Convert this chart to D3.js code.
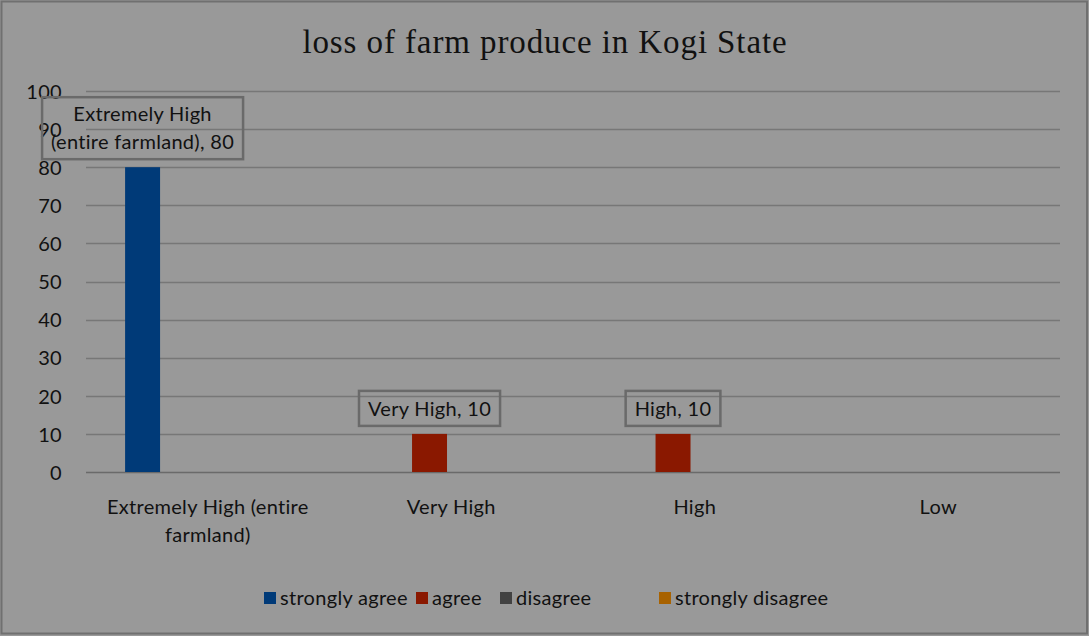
<!DOCTYPE html>
<html>
<head>
<meta charset="utf-8">
<script src="https://cdn.jsdelivr.net/npm/d3@7"></script>
<style>
  html, body { margin: 0; padding: 0; background: #999999; }
  svg { display: block; }
</style>
</head>
<body>
<svg id="chart" width="1089" height="636"></svg>
<script>
// Data
const categories = ["Extremely High (entire farmland)", "Very High", "High", "Low"];
const seriesNames = ["strongly agree", "agree", "disagree", "strongly disagree"];
const seriesColors = ["#003a78", "#8a1800", "#424242", "#a86200"];
const stronglyAgree = [80, null, null, null];
const agree = [null, 10, 10, null];
const disagree = [null, null, null, null];
const stronglyDisagree = [null, null, null, null];
const yTicks = [0, 10, 20, 30, 40, 50, 60, 70, 80, 90, 100];
const title = "loss of farm produce in Kogi State";

const seriesValues = [stronglyAgree, agree, disagree, stronglyDisagree];

const svg = d3.select("#chart");
const W = 1089, H = 636;
const plot = { left: 86, right: 1060, top: 91, bottom: 472 };
const font = "Lato, 'Open Sans', sans-serif";
const fs = 20, ls = 0.3;

// Outer frame
svg.append("rect")
  .attr("x", 1.5).attr("y", 1.5).attr("width", W - 3.5).attr("height", H - 4)
  .attr("fill", "#999999").attr("stroke", "#707070").attr("stroke-width", 2);

// Title
svg.append("text")
  .attr("x", 545).attr("y", 53)
  .attr("text-anchor", "middle")
  .attr("font-family", "'Liberation Serif', 'DejaVu Serif', serif")
  .attr("font-size", 33)
  .attr("letter-spacing", 0.9)
  .attr("fill", "#111")
  .text(title);

const x0 = d3.scaleBand().domain(categories).range([plot.left, plot.right]).paddingInner(0).paddingOuter(0);
const x1 = d3.scaleBand().domain(seriesNames).range([0, x0.bandwidth()])
  .paddingInner(0.195).paddingOuter(0.9);
const y = d3.scaleLinear().domain([0, 100]).range([plot.bottom, plot.top]);

// Gridlines
svg.append("g").selectAll("line").data(yTicks).join("line")
  .attr("x1", plot.left).attr("x2", plot.right)
  .attr("y1", d => Math.round(y(d)) + 0.5).attr("y2", d => Math.round(y(d)) + 0.5)
  .attr("stroke", d => d === 0 ? "#6a6a6a" : "#777777")
  .attr("stroke-width", 1.5);

// Y axis labels
const yAxis = d3.axisLeft(y).tickValues(yTicks).tickSize(0).tickPadding(0);
const gy = svg.append("g").attr("transform", `translate(62,0)`).call(yAxis);
gy.select(".domain").remove();
gy.selectAll("text")
  .attr("font-family", font).attr("font-size", fs).attr("letter-spacing", ls).attr("fill", "#111")
  .attr("dy", "0.36em");

// Bars
const barData = [];
seriesValues.forEach((vals, si) => {
  vals.forEach((v, ci) => {
    if (v != null) barData.push({ cat: categories[ci], series: seriesNames[si], value: v, color: seriesColors[si] });
  });
});

svg.append("g").selectAll("rect").data(barData).join("rect")
  .attr("x", d => x0(d.cat) + x1(d.series))
  .attr("y", d => y(d.value))
  .attr("width", x1.bandwidth())
  .attr("height", d => y(0) - y(d.value))
  .attr("fill", d => d.color);

// Data labels with outlined (unfilled) boxes
const labelG = svg.append("g");
barData.forEach(d => {
  const cx = x0(d.cat) + x1(d.series) + x1.bandwidth() / 2;
  const top = y(d.value);
  const g = labelG.append("g");
  let lines;
  if (d.cat === categories[0]) {
    lines = ["Extremely High", "(entire farmland), " + d.value];
  } else {
    lines = [d.cat + ", " + d.value];
  }
  const lineH = 28;
  const boxH = lines.length === 1 ? 35 : 62;
  const boxBottom = top - 8;
  const boxTop = boxBottom - boxH;
  const texts = g.selectAll("text").data(lines).join("text")
    .attr("text-anchor", "middle")
    .attr("font-family", font).attr("font-size", fs).attr("letter-spacing", ls).attr("fill", "#111")
    .attr("x", cx)
    .attr("y", (l, i) => boxTop + boxH / 2 + (i - (lines.length - 1) / 2) * lineH)
    .attr("dy", "0.36em")
    .text(l => l);
  let maxW = 0;
  texts.each(function () { maxW = Math.max(maxW, this.getComputedTextLength()); });
  const bw = maxW + 18;
  g.insert("rect", "text")
    .attr("x", cx - bw / 2).attr("y", boxTop)
    .attr("width", bw).attr("height", boxH)
    .attr("fill", "none").attr("stroke", "#6a6a6a").attr("stroke-width", 2.5);
});

// Category labels
const catG = svg.append("g");
categories.forEach(c => {
  const cx = x0(c) + x0.bandwidth() / 2;
  const lines = c === categories[0] ? ["Extremely High (entire", "farmland)"] : [c];
  lines.forEach((l, i) => {
    catG.append("text")
      .attr("x", cx).attr("y", 514 + i * 28)
      .attr("text-anchor", "middle")
      .attr("font-family", font).attr("font-size", fs).attr("letter-spacing", ls).attr("fill", "#111")
      .text(l);
  });
});

// Legend
const legendX = [264, 416, 500, 659];
const legend = svg.append("g");
seriesNames.forEach((s, i) => {
  legend.append("rect")
    .attr("x", legendX[i]).attr("y", 592).attr("width", 12).attr("height", 12)
    .attr("fill", seriesColors[i]);
  legend.append("text")
    .attr("x", legendX[i] + 16).attr("y", 598).attr("dy", "0.36em")
    .attr("font-family", font).attr("font-size", fs).attr("letter-spacing", ls).attr("fill", "#111")
    .text(s);
});
</script>
</body>
</html>
